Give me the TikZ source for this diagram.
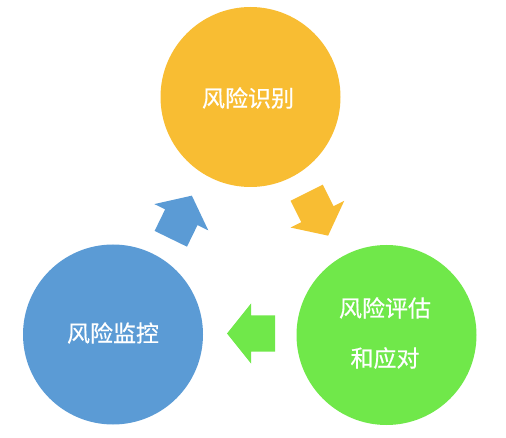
\documentclass[tikz,border=0pt]{standalone}
\usepackage{fontspec}
\newfontfamily\cjk[FakeBold=0.5]{Noto Sans CJK SC}
\definecolor{yellowc}{HTML}{F8BD33}
\definecolor{greenc}{HTML}{70E84A}
\definecolor{bluec}{HTML}{5B9BD5}
\tikzset{
  stage/.style={circle, minimum size=180pt, inner sep=0pt, draw=none},
  stagetext/.style={text=white, font=\cjk\fontsize{23}{50}\selectfont, align=center},
  blockarrow/.pic={\fill (0,-18) -- (24,-18) -- (24,-30) -- (48,0) -- (24,30) -- (24,18) -- (0,18) -- cycle;}
}
\begin{document}
\begin{tikzpicture}[x=1pt,y=-1pt]
\useasboundingbox (0,0) rectangle (506,438);
\node[stage, fill=yellowc] (ident) at (250.5,97) {};
\node[stage, fill=bluec] (monitor) at (113,334.5) {};
\node[stage, fill=greenc] (assess) at (386.5,335) {};
\node[stagetext] (identT) at (248,98) {风险识别};
\node[stagetext] (monitorT) at (113,333) {风险监控};
\node[stagetext] (assessT) at (385,333) {风险评估\\和应对};
\coordinate (a1) at (306.7,192.7);
\coordinate (a2) at (275,333.5);
\coordinate (a3) at (170.8,238.8);
\pic[fill=yellowc, rotate=-63.5] at (a1) {blockarrow};
\pic[fill=greenc, rotate=180] at (a2) {blockarrow};
\pic[fill=bluec, rotate=64] at (a3) {blockarrow};
\end{tikzpicture}
\end{document}
